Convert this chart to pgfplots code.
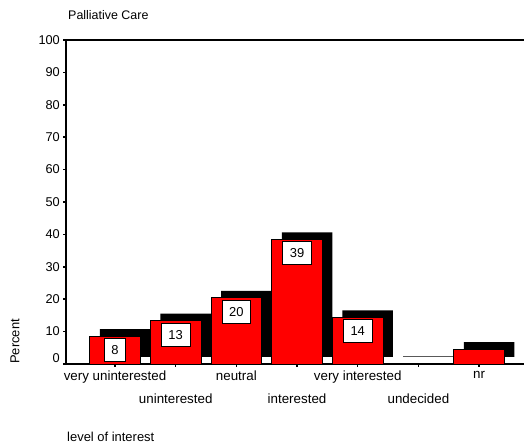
\documentclass[border=0pt]{standalone}
\usepackage{fontspec}
\setmainfont{Liberation Sans}
\usepackage{pgfplots}
\usepackage{pgfplotstable}
\pgfplotsset{compat=1.18}
\pgfplotstableread{
x y label
0 8.6 8
1 13.4 13
2 20.4 20
3 38.5 39
4 14.4 14
}\labeled
\pgfplotstableread{
x y
5 0.2
6 4.6
}\unlabeled
\pgfplotstableread{
x y
0 8.6
1 13.4
2 20.4
3 38.5
4 14.4
5 0.2
6 4.6
}\shadow
\begin{document}
\begin{tikzpicture}[x=1bp,y=1bp]
\useasboundingbox (0,0) rectangle (524,443);
\begin{axis}[
  at={(66bp,79bp)}, anchor=south west,
  scale only axis, width=458bp, height=324bp,
  xmin=-0.808, xmax=6.741, ymin=0, ymax=100,
  axis x line=box, axis y line=left,
  every outer x axis line/.append style={-},
  every outer y axis line/.append style={-},
  axis line style={-, line width=1.2bp, black},
  xtick pos=bottom, ytick pos=left,
  tick align=outside, major tick length=3bp,
  tick style={line width=1.5bp, black},
  ytick={10,20,...,100},
  extra y ticks={0},
  extra y tick style={yticklabel style={yshift=6bp}},
  xtick={0,...,6},
  xticklabels={very uninterested,{\vphantom{I}\\[9bp]uninterested},neutral,{\vphantom{I}\\[9bp]interested},very interested,{\vphantom{I}\\[9bp]undecided},nr},
  xticklabel style={align=center, font=\fontsize{13.4}{14}\selectfont, anchor=north, inner sep=0pt, yshift=-4bp},
  yticklabel style={font=\fontsize{12.8}{15}\selectfont, anchor=east, inner sep=0pt, xshift=-3bp},
  /pgf/number format/assume math mode=true,
  clip=false,
]
\addplot[ybar, bar width=0.832, bar shift=10bp, fill=black, draw=none, yshift=7bp] table[x=x,y=y] {\shadow};
\addplot[ybar, bar width=0.832, bar shift=0pt, fill=red, draw=black, line width=0.8bp,
  nodes near coords, point meta=explicit symbolic,
  every node near coord/.append style={anchor=north, yshift=-2bp, fill=white, draw=black, line width=0.8bp,
    font=\fontsize{13}{15}\selectfont, text=black, inner xsep=7bp, minimum height=23bp, text height=9.4bp, text depth=0bp}]
  table[x=x,y=y,meta=label] {\labeled};
\addplot[ybar, bar width=0.832, bar shift=0pt, fill=red, draw=black, line width=0.8bp] table[x=x,y=y] {\unlabeled};
\end{axis}
\node[anchor=west, inner sep=0pt, font=\fontsize{12.5}{15}\selectfont] at (68,428) {Palliative Care};
\node[anchor=west, inner sep=0pt, font=\fontsize{13}{15}\selectfont] at (67,6) {level of interest};
\node[rotate=90, anchor=west, inner sep=0pt, font=\fontsize{13}{15}\selectfont] at (15,79) {Percent};
\end{tikzpicture}
\end{document}
